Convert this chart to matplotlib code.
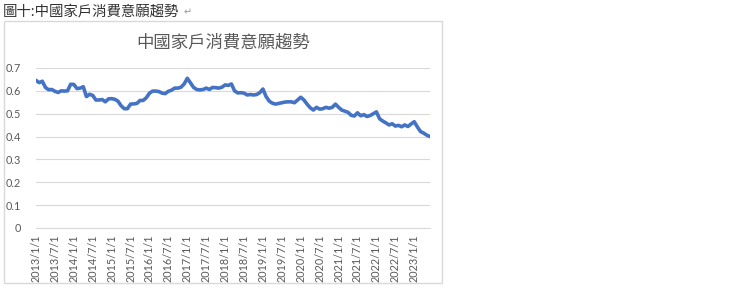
import numpy as np
import pandas as pd
import matplotlib.pyplot as plt
from matplotlib.patches import Rectangle

# monthly index, 2013/1 .. 2023/6
months = pd.date_range('2013-01-01', '2023-06-01', freq='MS')
willingness = [
    0.646, 0.636, 0.642, 0.615, 0.605, 0.606, 0.598, 0.593, 0.600, 0.599,
    0.600, 0.629, 0.628, 0.610, 0.612, 0.618, 0.575, 0.585, 0.580, 0.560,
    0.560, 0.562, 0.552, 0.565, 0.566, 0.563, 0.555, 0.535, 0.522, 0.522,
    0.542, 0.543, 0.545, 0.558, 0.558, 0.570, 0.590, 0.599, 0.599, 0.597,
    0.590, 0.588, 0.598, 0.603, 0.612, 0.612, 0.616, 0.630, 0.655, 0.635,
    0.615, 0.606, 0.604, 0.606, 0.612, 0.606, 0.615, 0.614, 0.612, 0.616,
    0.626, 0.624, 0.630, 0.600, 0.591, 0.592, 0.590, 0.582, 0.584, 0.582,
    0.584, 0.592, 0.608, 0.575, 0.555, 0.546, 0.542, 0.545, 0.548, 0.551,
    0.552, 0.552, 0.548, 0.560, 0.572, 0.560, 0.542, 0.526, 0.516, 0.528,
    0.520, 0.522, 0.528, 0.524, 0.528, 0.542, 0.528, 0.516, 0.511, 0.506,
    0.493, 0.490, 0.504, 0.491, 0.496, 0.488, 0.492, 0.500, 0.508, 0.478,
    0.468, 0.460, 0.451, 0.456, 0.446, 0.449, 0.443, 0.451, 0.444, 0.455,
    0.465, 0.442, 0.422, 0.415, 0.406, 0.400,
]
yticks = [0, 0.1, 0.2, 0.3, 0.4, 0.5, 0.6, 0.7]
ytick_labels = ['0', '0.1', '0.2', '0.3', '0.4', '0.5', '0.6', '0.7']

caption = '圖十:中國家戶消費意願趨勢'
title = '中國家戶消費意願趨勢'

cjk = ['Noto Sans CJK TC', 'DejaVu Sans']
gray = '#595959'

W, H = 740, 288
fig = plt.figure(figsize=(W / 100, H / 100), dpi=100)

# chart frame
fig.patches.append(Rectangle((4 / W, 1 - 283 / H), 438 / W, 262 / H,
                             transform=fig.transFigure, fill=False,
                             edgecolor='#d9d9d9', linewidth=1))

fig.text(3 / W, 1 - 11 / H, caption, family=cjk, fontsize=10.4,
         color='#333333', va='center', ha='left')
fig.text(184 / W, 1 - 12 / H, '↵', family=cjk, fontsize=7,
         color='#999999', va='center', ha='left')
fig.text(223 / W, 1 - 43 / H, title, family=cjk, fontsize=12.5,
         color=gray, va='center', ha='center')

ax = fig.add_axes([36 / W, 1 - 228 / H, 394 / W, 160 / H])
x = np.arange(len(willingness))
ax.plot(x, willingness, color='#4472C4', linewidth=2.6, solid_joinstyle='round',
        solid_capstyle='round')

ax.set_xlim(0, len(willingness) - 1)
ax.set_ylim(0, 0.7)
ax.set_yticks(yticks)
ax.set_yticklabels(ytick_labels)
tick_idx = x[::6][:21]
ax.set_xticks(tick_idx)
ax.set_xticklabels([f'{m.year}/{m.month}/1' for m in months[tick_idx]], rotation=90)

ax.grid(axis='y', color='#d9d9d9', linewidth=0.8)
ax.set_axisbelow(True)
for s in ax.spines.values():
    s.set_visible(False)
ax.spines['bottom'].set_visible(True)
ax.spines['bottom'].set_color('#d9d9d9')
ax.tick_params(length=0, colors=gray, labelsize=7.8)
ax.tick_params(axis='y', pad=11)
ax.tick_params(axis='x', pad=5)
for lab in ax.get_xticklabels() + ax.get_yticklabels():
    lab.set_family(['Lato', 'DejaVu Sans'])

fig.savefig('out.png', dpi=100)
